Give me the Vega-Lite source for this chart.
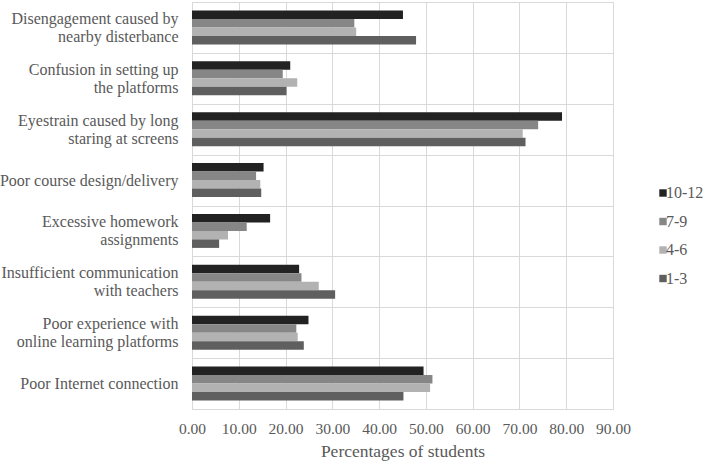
{
  "$schema": "https://vega.github.io/schema/vega-lite/v6.json",
  "width": 421,
  "height": 407,
  "autosize": {"type": "none"},
  "padding": {"left": 192, "top": 2, "right": 96, "bottom": 55},
  "background": "white",
  "config": {
    "font": "Liberation Serif, Times New Roman, serif",
    "axis": {"labelFont": "Liberation Serif, Times New Roman, serif", "titleFont": "Liberation Serif, Times New Roman, serif"},
    "legend": {"labelFont": "Liberation Serif, Times New Roman, serif"},
    "view": {"stroke": "#d9d9d9", "strokeWidth": 1}
  },
  "data": {
    "values": [
      {"cause": "Disengagement caused by|nearby disterbance", "grade": "10-12", "pct": 45.1},
      {"cause": "Disengagement caused by|nearby disterbance", "grade": "7-9", "pct": 34.7},
      {"cause": "Disengagement caused by|nearby disterbance", "grade": "4-6", "pct": 35.1},
      {"cause": "Disengagement caused by|nearby disterbance", "grade": "1-3", "pct": 47.9},
      {"cause": "Confusion in setting up|the platforms", "grade": "10-12", "pct": 21.0},
      {"cause": "Confusion in setting up|the platforms", "grade": "7-9", "pct": 19.4},
      {"cause": "Confusion in setting up|the platforms", "grade": "4-6", "pct": 22.5},
      {"cause": "Confusion in setting up|the platforms", "grade": "1-3", "pct": 20.2},
      {"cause": "Eyestrain caused by long|staring at screens", "grade": "10-12", "pct": 79.1},
      {"cause": "Eyestrain caused by long|staring at screens", "grade": "7-9", "pct": 74.0},
      {"cause": "Eyestrain caused by long|staring at screens", "grade": "4-6", "pct": 70.7},
      {"cause": "Eyestrain caused by long|staring at screens", "grade": "1-3", "pct": 71.3},
      {"cause": "Poor course design/delivery", "grade": "10-12", "pct": 15.3},
      {"cause": "Poor course design/delivery", "grade": "7-9", "pct": 13.7},
      {"cause": "Poor course design/delivery", "grade": "4-6", "pct": 14.6},
      {"cause": "Poor course design/delivery", "grade": "1-3", "pct": 14.8},
      {"cause": "Excessive homework|assignments", "grade": "10-12", "pct": 16.7},
      {"cause": "Excessive homework|assignments", "grade": "7-9", "pct": 11.7},
      {"cause": "Excessive homework|assignments", "grade": "4-6", "pct": 7.7},
      {"cause": "Excessive homework|assignments", "grade": "1-3", "pct": 5.8},
      {"cause": "Insufficient communication|with teachers", "grade": "10-12", "pct": 22.9},
      {"cause": "Insufficient communication|with teachers", "grade": "7-9", "pct": 23.4},
      {"cause": "Insufficient communication|with teachers", "grade": "4-6", "pct": 27.1},
      {"cause": "Insufficient communication|with teachers", "grade": "1-3", "pct": 30.6},
      {"cause": "Poor experience with|online learning platforms", "grade": "10-12", "pct": 24.9},
      {"cause": "Poor experience with|online learning platforms", "grade": "7-9", "pct": 22.3},
      {"cause": "Poor experience with|online learning platforms", "grade": "4-6", "pct": 22.6},
      {"cause": "Poor experience with|online learning platforms", "grade": "1-3", "pct": 23.9},
      {"cause": "Poor Internet connection", "grade": "10-12", "pct": 49.5},
      {"cause": "Poor Internet connection", "grade": "7-9", "pct": 51.4},
      {"cause": "Poor Internet connection", "grade": "4-6", "pct": 50.9},
      {"cause": "Poor Internet connection", "grade": "1-3", "pct": 45.2}
    ]
  },
  "mark": {"type": "bar"},
  "encoding": {
    "y": {
      "field": "cause",
      "type": "nominal",
      "sort": null,
      "scale": {"paddingInner": 0, "paddingOuter": 0},
      "axis": {
        "title": null,
        "labelExpr": "indexof(datum.label, '|') >= 0 ? [split(datum.label, '|')[0], '\u200b', split(datum.label, '|')[1]] : ['\u200b', datum.label]",
        "labelFont": "Liberation Serif",
        "labelFontSize": 16,
        "labelLineHeight": 9,
        "labelOffset": -9,
        "labelColor": "#595959",
        "labelPadding": 14,
        "labelLimit": 200,
        "ticks": false,
        "domain": false,
        "grid": true,
        "tickBand": "extent",
        "gridColor": "#d9d9d9",
        "gridWidth": 1
      }
    },
    "yOffset": {
      "field": "grade",
      "type": "nominal",
      "sort": ["10-12", "7-9", "4-6", "1-3"],
      "scale": {"paddingInner": 0, "paddingOuter": 1}
    },
    "x": {
      "field": "pct",
      "type": "quantitative",
      "scale": {"domain": [0, 90], "nice": false},
      "axis": {
        "title": "Percentages of students",
        "titleFont": "Liberation Serif",
        "titleFontSize": 17.5,
        "titleFontWeight": "normal",
        "titleColor": "#595959",
        "titlePadding": 6,
        "values": [0, 10, 20, 30, 40, 50, 60, 70, 80, 90],
        "format": ".2f",
        "labelFont": "Liberation Serif",
        "labelFontSize": 15.5,
        "labelColor": "#595959",
        "labelPadding": 12,
        "labelFlush": false,
        "ticks": false,
        "domain": false,
        "grid": true,
        "gridColor": "#d9d9d9",
        "gridWidth": 1
      }
    },
    "color": {
      "field": "grade",
      "type": "nominal",
      "scale": {
        "domain": ["10-12", "7-9", "4-6", "1-3"],
        "range": ["#222222", "#868686", "#b2b2b2", "#5f5f5f"]
      },
      "legend": {
        "title": null,
        "orient": "none",
        "legendX": 463,
        "legendY": 183,
        "symbolType": "square",
        "symbolSize": 55,
        "symbolStrokeWidth": 0,
        "labelFont": "Liberation Serif",
        "labelFontSize": 16,
        "labelColor": "#595959",
        "labelOffset": -5,
        "rowPadding": 12.5
      }
    }
  }
}
